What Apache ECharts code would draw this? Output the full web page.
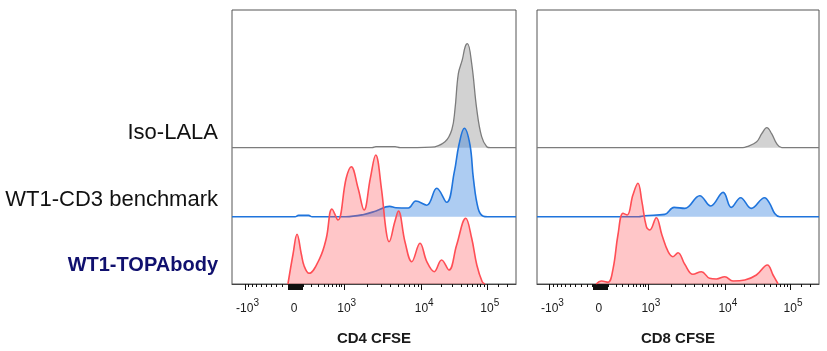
<!DOCTYPE html>
<html>
<head>
<meta charset="utf-8">
<script src="https://cdn.jsdelivr.net/npm/echarts@6/dist/echarts.min.js"></script>
<style>
  html, body { margin: 0; padding: 0; background: #fff; }
  #chart { width: 827px; height: 351px; }
</style>
</head>
<body>
<div id="chart"></div>
<script>
// sample names, top to bottom
const sampleNames = ['Iso-LALA', 'WT1-CD3 benchmark', 'WT1-TOPAbody']
const panelTitles = ['CD4 CFSE', 'CD8 CFSE']

// tick labels (fluorescence values) and their exponents
const labelValues = [-1000, 0, 1000, 10000, 100000]
const labelBase = ['-10', '0', '10', '10', '10']
const labelExp = ['3', '', '3', '4', '5']

// histograms: [display position (0-100 across the axis), count]
const cd4Iso = [[0, 0], [49.3, 0], [50.7, 1], [57.4, 1], [59.2, 0], [70.1, 0.5], [75.0, 6], [77.4, 18], [78.5, 38], [79.7, 74], [81.1, 88], [82.1, 101], [82.9, 104], [84.4, 84], [86.2, 38], [87.9, 11], [89.7, 1], [91, 0], [100, 0]]
const cd4Bench = [[0, 0], [22.2, 0], [23.4, 1.3], [27.0, 1.3], [28.2, 0], [40.1, 0], [46.1, 2], [50.7, 5.7], [55.5, 10.3], [57.7, 9], [62.1, 8.7], [64.7, 15.7], [68.6, 11.5], [72.1, 28.4], [75.6, 14.4], [78.3, 45], [79.9, 71.7], [81.8, 88.4], [83.8, 71.7], [85.0, 38], [86.7, 8], [88.5, 0.5], [90, 0], [100, 0]]
const cd4Topa = [[19.7, 0], [21.5, 30], [22.9, 49.7], [24.4, 30], [25.4, 18], [27.1, 10.7], [30.9, 25.7], [33.2, 45.7], [35.2, 75], [37.3, 64], [40.2, 105.7], [42.0, 117.3], [44.4, 95.7], [46.5, 74], [48.7, 105.7], [50.6, 129], [52.6, 95.7], [54.3, 52.3], [55.3, 42.3], [57.3, 62], [58.6, 73], [60.9, 42.3], [63.3, 22.3], [66.2, 40.7], [68.6, 22.3], [71.2, 12.3], [73.8, 24], [76.4, 14], [79.1, 39], [82.3, 65.7], [84.4, 45.7], [86.2, 19], [88.1, 2.3], [89.1, 0]]

const cd8Iso = [[0, 0], [73, 0], [74.4, 1], [77.9, 6], [79.7, 14], [81.5, 20], [83.2, 14], [85.0, 4], [86.8, 0], [100, 0]]
const cd8Bench = [[0, 0], [36, 0], [38.2, 1], [45.3, 2.3], [48.6, 9.3], [52.4, 8.3], [57.7, 21], [61.6, 10.7], [66.0, 24.3], [68.9, 9.3], [72.2, 19], [76.0, 8.3], [80.7, 19], [82.5, 13.3], [84.3, 3.3], [86.1, 0], [100, 0]]
const cd8Topa = [[21.0, 0], [22.8, 3], [25.2, 1.7], [27.0, 15.7], [28.7, 49], [30.5, 70.7], [32.0, 69], [34.0, 89], [35.8, 100.7], [37.2, 82.3], [38.8, 57.3], [40.0, 54], [42.3, 66.3], [44.3, 49], [46.5, 32.3], [48.2, 27.3], [50.0, 31.3], [52.4, 19.7], [55.3, 9.7], [58.3, 12.3], [61.2, 5.7], [63.6, 5], [66.6, 7.3], [69.5, 3], [73.7, 4], [77.8, 9], [81.7, 19], [83.7, 9], [85.5, 0]]

const panels = [[cd4Iso, cd4Bench, cd4Topa], [cd8Iso, cd8Bench, cd8Topa]]

// biex-like display transform: fluorescence value -> axis position (0-100)
const toDisplay = (v) => {
  if (v >= 1e4) return 66.7 + 23.1 * Math.log10(v / 1e4)
  if (v >= 1e3) return 39.4 + 27.3 * Math.log10(v / 1e3)
  if (v >= 0) return 21.9 + 17.5 * Math.asinh(v / 250) / Math.asinh(1000 / 250)
  return 21.9 - 17.4 * Math.asinh(-v / 700) / Math.asinh(1000 / 700)
}

// tick values
const range = (a, b, step) => {
  const out = []
  for (let v = a; v <= b + 1e-9; v += step) out.push(v)
  return out
}
const majorTicks = [-1000, 1000, 10000, 100000].concat(range(-90, 90, 10))
const minorTicks = [].concat(
  range(-900, -100, 100),
  range(100, 900, 100),
  range(2000, 9000, 1000),
  range(20000, 90000, 10000),
  [150000, 200000]
)

// layout
const grids = [
  { left: 232, top: 10, width: 284, height: 274 },
  { left: 537, top: 10, width: 282, height: 274 }
]
const plotHeight = 274
const baselines = [136.3, 67.3, 0] // offset of each histogram from the bottom
const lineColors = ['#7c7c7c', '#1f74dc', '#ff4e55']
const fillColors = ['rgba(128,128,128,0.5)', 'rgba(31,116,220,0.52)', 'rgba(255,78,85,0.46)']
const font = '"Liberation Sans", Arial, sans-serif'

const labelPos = labelValues.map(toDisplay)
const formatLabel = (val) => {
  let best = 0
  labelPos.forEach((p, i) => { if (Math.abs(p - val) < Math.abs(labelPos[best] - val)) best = i })
  if (!labelExp[best]) return '{b|' + labelBase[best] + '}'
  return '{sp|' + labelExp[best] + '}{b|' + labelBase[best] + '}{s|' + labelExp[best] + '}'
}

const xAxis = []
const yAxis = []
const series = []
grids.forEach((g, gi) => {
  // major ticks + labels + title
  xAxis.push({
    gridIndex: gi,
    type: 'value',
    position: 'bottom',
    min: 0,
    max: 100,
    name: panelTitles[gi],
    nameLocation: 'middle',
    nameGap: 47,
    nameTextStyle: { fontFamily: font, fontWeight: 'bold', fontSize: 15, color: '#1a1a1a' },
    axisLine: { show: true, onZero: false, lineStyle: { color: '#444', width: 1 } },
    axisTick: { show: true, length: 6, customValues: majorTicks.map(toDisplay), lineStyle: { color: '#111', width: 1 } },
    axisLabel: {
      show: true,
      margin: 14,
      customValues: labelPos,
      formatter: formatLabel,
      fontFamily: font,
      rich: {
        b: { fontFamily: font, fontSize: 12, lineHeight: 22, color: '#1a1a1a' },
        s: { fontFamily: font, fontSize: 10, color: '#1a1a1a', verticalAlign: 'top' },
        sp: { fontFamily: font, fontSize: 10, color: 'rgba(0,0,0,0)', verticalAlign: 'top' }
      }
    },
    splitLine: { show: false }
  })
  // minor ticks
  xAxis.push({
    gridIndex: gi,
    type: 'value',
    position: 'bottom',
    min: 0,
    max: 100,
    axisLine: { show: false, onZero: false },
    axisTick: { show: true, length: 3, customValues: minorTicks.map(toDisplay), lineStyle: { color: '#111', width: 1 } },
    axisLabel: { show: false },
    splitLine: { show: false }
  })
  baselines.forEach((b, k) => {
    yAxis.push({ gridIndex: gi, type: 'value', min: -b, max: plotHeight - b, show: false, splitLine: { show: false } })
  })
  panels[gi].forEach((data, k) => {
    series.push({
      name: sampleNames[k],
      type: 'line',
      xAxisIndex: gi * 2,
      yAxisIndex: gi * 3 + k,
      data: data,
      smooth: 0.4,
      symbol: 'none',
      silent: true,
      lineStyle: { color: lineColors[k], width: k === 0 ? 1.3 : 1.6 },
      areaStyle: { color: fillColors[k] },
      z: 2 + k
    })
  })
})

const nameColors = ['#111', '#111', '#10106e']
const nameY = [133, 200, 265]
const chart = echarts.init(document.getElementById('chart'), null, { renderer: 'canvas' })
chart.setOption({
  animation: false,
  grid: grids.map(g => Object.assign({ show: true, borderColor: '#555', borderWidth: 1, backgroundColor: 'transparent' }, g)),
  xAxis: xAxis,
  yAxis: yAxis,
  series: series,
  graphic: sampleNames.map((n, i) => ({
    type: 'text',
    x: 218,
    y: nameY[i],
    style: {
      text: n,
      fill: nameColors[i],
      font: (i === 2 ? 'bold 20px ' : '22px ') + font,
      align: 'right',
      textAlign: 'right',
      verticalAlign: 'middle',
      textVerticalAlign: 'middle'
    }
  }))
})
window.addEventListener('resize', () => chart.resize())
</script>
</body>
</html>
